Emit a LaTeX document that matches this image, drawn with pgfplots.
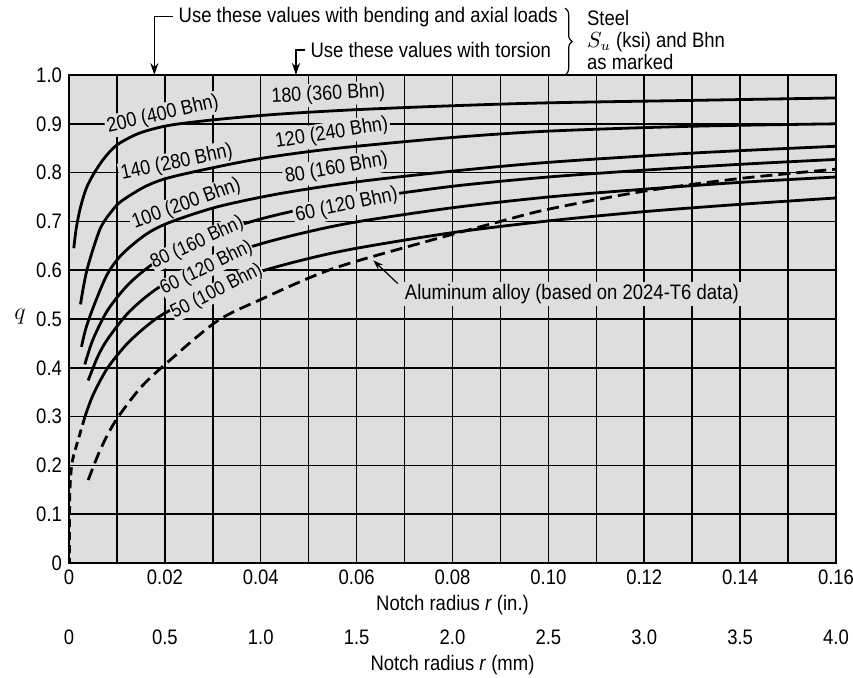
\documentclass[border=0pt]{standalone}
\usepackage{fontspec}
\setmainfont{Liberation Sans}[FakeStretch=0.88]
\usepackage{pgfplots}
\pgfplotsset{compat=1.18}
\usetikzlibrary{arrows.meta,decorations.pathreplacing}
\definecolor{bgc}{RGB}{222,222,222}
\newcommand{\fs}{\fontsize{10.5}{12}\selectfont}
\newcommand{\fl}{\fontsize{10.2}{12}\selectfont}
\newcommand{\fk}{\fontsize{9.8}{12}\selectfont}
\begin{document}
\begin{tikzpicture}[font=\fs]
\path[use as bounding box] (-34.5pt,-57pt) rectangle (392pt,281.5pt);
\begin{axis}[
 at={(0,0)}, anchor=south west,
 scale only axis, width=383.5pt, height=244pt,
 xmin=0, xmax=0.16, ymin=0, ymax=1,
 clip=false,
 axis background/.style={fill=bgc},
 xtick={0,0.02,0.04,0.06,0.08,0.1,0.12,0.14,0.16},
 xticklabels={0,0.02,0.04,0.06,0.08,0.10,0.12,0.14,0.16},
 minor xtick={0.01,0.03,0.05,0.07,0.09,0.11,0.13,0.15},
 ytick={0,0.1,0.2,0.3,0.4,0.5,0.6,0.7,0.8,0.9,1.0},
 yticklabels={0,0.1,0.2,0.3,0.4,0.5,0.6,0.7,0.8,0.9,1.0},
 grid=both,
 major grid style={black, line width=0.75pt},
 minor grid style={black, line width=0.75pt},
 major tick length=0pt, minor tick length=0pt,
 axis line style={line width=0.9pt},
 tick label style={font=\fs},
 /pgf/number format/assume math mode=true,
 xlabel={Notch radius \textit{r} (in.)},
 xlabel style={at={(axis description cs:0.5,-0.0861)}, anchor=center},
 ylabel={$q$},
 ylabel style={at={(axis description cs:-0.0639,0.505)}, anchor=center, rotate=-90, font=\large},
]
% labels that sit above curves
\node[rotate=13, fill=bgc, inner sep=1pt, font=\fl] at (axis cs:0.0196,0.919) {200 (400 Bhn)};
\node[rotate=12, fill=bgc, inner sep=1pt, font=\fl] at (axis cs:0.0225,0.820) {140 (280 Bhn)};
\node[rotate=20, fill=bgc, inner sep=1pt, font=\fl] at (axis cs:0.0245,0.735) {100 (200 Bhn)};
\node[rotate=3, fill=bgc, inner sep=1pt, font=\fl] at (axis cs:0.0541,0.960) {180 (360 Bhn)};
\node[rotate=9, fill=bgc, inner sep=1pt, font=\fl] at (axis cs:0.0548,0.880) {120 (240 Bhn)};
\node[rotate=10, fill=bgc, inner sep=1pt, font=\fl] at (axis cs:0.0558,0.808) {80 (160 Bhn)};
\node[fill=bgc, inner sep=1pt] at (axis cs:0.1049,0.551) {Aluminum alloy (based on 2024-T6 data)};

% 200 ksi
\addplot[black, line width=1.4pt, smooth] coordinates {
(0.001,0.645)(0.0015,0.685)(0.0023,0.725)(0.0035,0.765)(0.005,0.795)(0.007,0.825)(0.009,0.848)(0.011,0.863)(0.015,0.882)(0.021,0.897)(0.031,0.909)(0.044,0.92)(0.06,0.929)(0.08,0.937)(0.1,0.943)(0.13,0.948)(0.16,0.953)};
% 140 ksi
\addplot[black, line width=1.4pt, smooth] coordinates {
(0.0024,0.53)(0.003,0.565)(0.004,0.61)(0.0065,0.685)(0.009,0.722)(0.011,0.742)(0.016,0.772)(0.021,0.79)(0.031,0.812)(0.04,0.829)(0.05,0.843)(0.06,0.854)(0.08,0.872)(0.1,0.885)(0.13,0.895)(0.16,0.90)};
% 100 ksi
\addplot[black, line width=1.4pt, smooth] coordinates {
(0.0026,0.443)(0.0035,0.48)(0.0051,0.525)(0.0079,0.59)(0.011,0.632)(0.016,0.673)(0.021,0.698)(0.031,0.73)(0.044,0.757)(0.06,0.781)(0.08,0.803)(0.1,0.821)(0.13,0.84)(0.16,0.854)};
% 80 ksi
\addplot[black, line width=1.4pt, smooth] coordinates {
(0.0033,0.407)(0.005,0.458)(0.008,0.517)(0.012,0.567)(0.016,0.602)(0.02,0.628)(0.03,0.674)(0.04,0.705)(0.05,0.728)(0.06,0.745)(0.08,0.772)(0.1,0.791)(0.12,0.805)(0.14,0.817)(0.16,0.827)};
% 60 ksi
\addplot[black, line width=1.4pt, smooth] coordinates {
(0.004,0.374)(0.006,0.423)(0.008,0.458)(0.012,0.509)(0.016,0.545)(0.02,0.572)(0.03,0.621)(0.04,0.654)(0.05,0.679)(0.06,0.699)(0.08,0.728)(0.1,0.75)(0.12,0.766)(0.14,0.78)(0.16,0.791)};
% 50 ksi
\addplot[black, line width=1.4pt, smooth] coordinates {
(0.0033,0.299)(0.005,0.344)(0.008,0.399)(0.012,0.448)(0.016,0.484)(0.02,0.512)(0.03,0.5625)(0.04,0.5975)(0.05,0.624)(0.06,0.645)(0.08,0.677)(0.1,0.701)(0.12,0.72)(0.14,0.735)(0.16,0.748)};
% dashed extension toward origin
\addplot[black, line width=1.4pt, smooth, dash pattern=on 4pt off 2.5pt] coordinates {
(0.0033,0.299)(0.0019,0.252)(0.0009,0.218)(0.0005,0.195)(0.0002,0.15)(0.0001,0.08)(0.0001,0)};
% aluminum alloy
\addplot[black, line width=1.4pt, smooth, dash pattern=on 6pt off 3pt] coordinates {
(0.004,0.17)(0.006,0.22)(0.008,0.262)(0.0103,0.30)(0.015,0.36)(0.0204,0.41)(0.0308,0.495)(0.04,0.54)(0.055,0.603)(0.075,0.66)(0.09,0.70)(0.1,0.725)(0.12,0.762)(0.14,0.788)(0.16,0.807)};

% labels that sit on curves
\node[rotate=25, fill=bgc, inner sep=0.2pt, font=\fk] at (axis cs:0.02676,0.6557) {80 (160 Bhn)};
\node[rotate=26, fill=bgc, inner sep=0.2pt, font=\fk] at (axis cs:0.0287,0.604) {60 (120 Bhn)};
\node[rotate=27, fill=bgc, inner sep=0.2pt, font=\fk] at (axis cs:0.03084,0.5563) {50 (100 Bhn)};
\node[rotate=12, fill=bgc, inner sep=1pt, font=\fl] at (axis cs:0.0579,0.733) {60 (120 Bhn)};

\draw[line width=0.6pt, -{Stealth[length=5pt,width=3.5pt]}] (axis cs:0.0686,0.5725) -- (axis cs:0.0635,0.62);

% top annotations
\draw[line width=0.6pt, -{Stealth[length=6pt,width=4pt]}] (axis cs:0.0217,1.1195) -- (axis cs:0.0178,1.1195) -- (axis cs:0.0178,1.0);
\node[anchor=west, inner sep=0pt] at (axis cs:0.0228,1.1195) {Use these values with bending and axial loads};
\draw[line width=0.6pt, -{Stealth[length=6pt,width=4pt]}] (axis cs:0.0492,1.0512) -- (axis cs:0.04735,1.0512) -- (axis cs:0.04735,1.0);
\node[anchor=west, inner sep=0pt] at (axis cs:0.0503,1.0512) {Use these values with torsion};
\draw[decorate, decoration={brace, amplitude=3.5pt}, line width=0.6pt] (axis cs:0.1035,1.137) -- (axis cs:0.1035,1.0);
\node[anchor=west, inner sep=0pt] at (axis cs:0.108,1.116) {Steel};
\node[anchor=west, inner sep=0pt] at (axis cs:0.108,1.068) {$S_u$ (ksi) and Bhn};
\node[anchor=west, inner sep=0pt] at (axis cs:0.108,1.027) {as marked};
\end{axis}
\begin{axis}[
 at={(0,-30pt)}, anchor=south west,
 scale only axis, width=383.5pt, height=10pt,
 xmin=0, xmax=0.16, ymin=0, ymax=1,
 hide y axis, axis line style={draw=none},
 major tick length=0pt,
 xtick={0,0.02,0.04,0.06,0.08,0.1,0.12,0.14,0.16},
 xticklabels={0,0.5,1.0,1.5,2.0,2.5,3.0,3.5,4.0},
 tick label style={font=\fs},
 xlabel={Notch radius \textit{r} (mm)},
 xlabel style={at={(axis description cs:0.5,0)}, anchor=center, yshift=-21pt},
]
\addplot[draw=none] coordinates {(0,0)};
\end{axis}
\end{tikzpicture}
\end{document}
